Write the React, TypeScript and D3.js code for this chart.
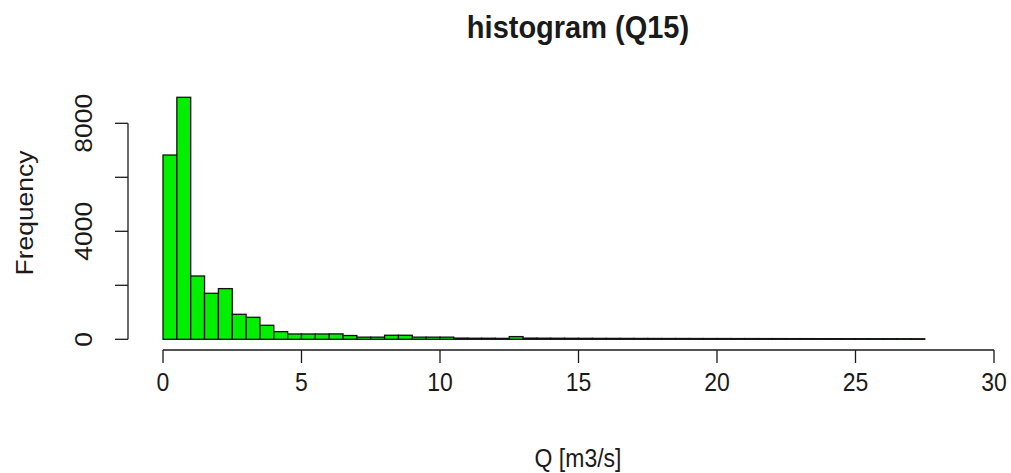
import React from "react";
import * as d3 from "d3";

const binWidth = 0.5;
const counts: number[] = [
  6825, 8963, 2345, 1704, 1877, 926, 815, 519, 284, 197, 197, 197,
  200, 140, 80, 80, 150, 150, 80, 80, 80,
  45, 40, 40, 35, 100,
  45, 42, 40, 38, 36, 35, 34, 33, 32, 31, 30, 30, 29, 28, 28, 27, 27, 26, 26, 25, 25, 24, 24, 23, 23, 22, 22, 21, 21,
];
const xTicks = [0, 5, 10, 15, 20, 25, 30];
const yTicks = [0, 2000, 4000, 6000, 8000];
const yLabelTicks = [0, 4000, 8000];
const title = "histogram (Q15)";
const xLabel = "Q [m3/s]";
const yLabel = "Frequency";

export default function App() {
  const W = 1011, H = 473;
  const x = d3.scaleLinear().domain([0, 30]).range([163, 994]);
  const y = d3.scaleLinear().domain([0, 8000]).range([339.3, 123.3]);
  const axisY = 350;
  const axisX = 128;
  const sy = 1.15;
  const F = 23;
  const font = "'Liberation Sans', Arial, sans-serif";
  const col = "#1a1a1a";
  const bins = counts.map((c, i) => ({ x0: i * binWidth, x1: (i + 1) * binWidth, c }));
  return (
    <svg width={W} height={H} style={{ position: "absolute", left: 0, top: 0, background: "#fff" }} fontFamily={font}>
      <rect x={0} y={0} width={W} height={H} fill="#fff" />
      <text transform={`translate(578,38) scale(1,1.05)`} textAnchor="middle" fontSize={29} fontWeight="bold" fill={col}>{title}</text>
      {bins.map((b, i) => (
        <rect key={i} x={x(b.x0)} y={y(b.c)} width={x(b.x1) - x(b.x0)} height={y(0) - y(b.c)}
          fill="#00f000" stroke="#111" strokeWidth={1.3} />
      ))}
      {/* x axis */}
      <line x1={x(0)} x2={x(30)} y1={axisY} y2={axisY} stroke={col} strokeWidth={1.3} />
      {xTicks.map((t) => (
        <g key={t}>
          <line x1={x(t)} x2={x(t)} y1={axisY} y2={axisY + 13} stroke={col} strokeWidth={1.3} />
          <text transform={`translate(${x(t)},${axisY + 41}) scale(1,${sy})`} textAnchor="middle" fontSize={F} fill={col}>{t}</text>
        </g>
      ))}
      {/* y axis */}
      <line x1={axisX} x2={axisX} y1={y(0)} y2={y(8000)} stroke={col} strokeWidth={1.3} />
      {yTicks.map((t) => (
        <line key={t} x1={axisX - 13} x2={axisX} y1={y(t)} y2={y(t)} stroke={col} strokeWidth={1.3} />
      ))}
      {yLabelTicks.map((t) => (
        <text key={t} transform={`translate(92,${y(t)}) scale(1,${sy}) rotate(-90)`} textAnchor="middle" fontSize={F} fill={col}>{t}</text>
      ))}
      <text transform={`translate(578,467) scale(1,${sy})`} textAnchor="middle" fontSize={F} fill={col}>{xLabel}</text>
      <text transform={`translate(33,213) scale(1,${sy}) rotate(-90)`} textAnchor="middle" fontSize={F} fill={col}>{yLabel}</text>
    </svg>
  );
}
